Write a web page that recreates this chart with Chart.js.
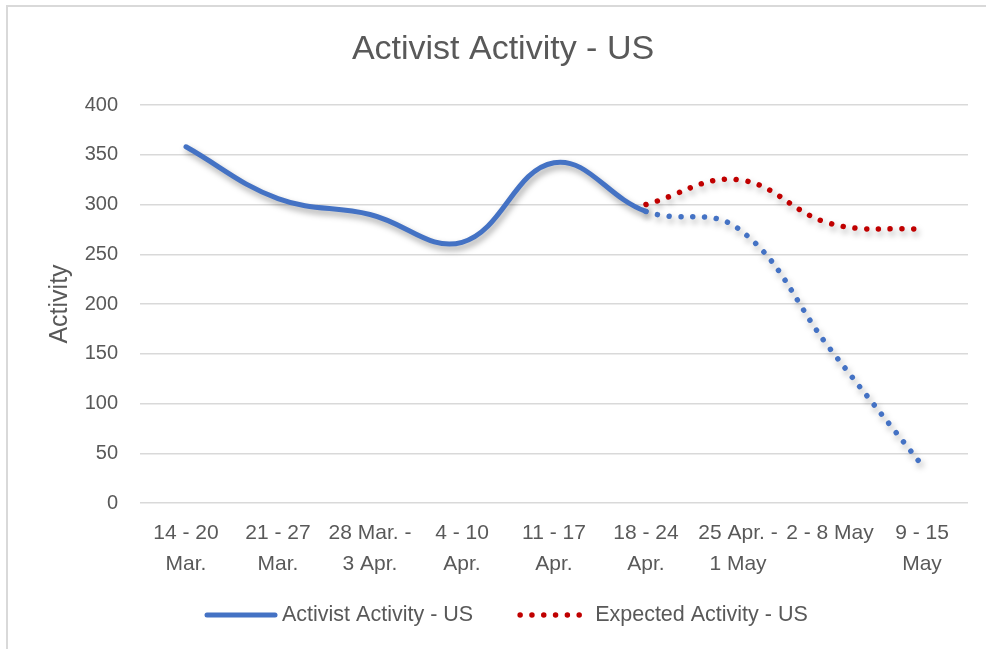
<!DOCTYPE html>
<html>
<head>
<meta charset="utf-8">
<script src="https://cdn.jsdelivr.net/npm/chart.js@4/dist/chart.umd.min.js"></script>
<style>
  html, body { margin: 0; padding: 0; background: #fff; }
  #wrap { width: 986px; height: 649px; }
</style>
</head>
<body>
<div id="wrap"><canvas id="chart"></canvas></div>
<script>
//Chart data
const chartTitle = "Activist Activity - US";
const categories = [
  ["14 - 20", "Mar."],
  ["21 - 27", "Mar."],
  ["28 Mar. -", "3 Apr."],
  ["4 - 10", "Apr."],
  ["11 - 17", "Apr."],
  ["18 - 24", "Apr."],
  ["25 Apr. -", "1 May"],
  ["2 - 8 May"],
  ["9 - 15", "May"]
];
const activistValues = [358, 306, 290, 262, 342, 293, 276, 155, 38];
const expectedValues = [null, null, null, null, null, 300, 325, 281, 275];
//Index after which the activist line is a dotted projection
const projectionStart = 5;

const textColor = "#595959";
const fontFamily = "'Liberation Sans', Arial, sans-serif";
const dotDash = [0.01, 11.8];

//Frame, title, line shadows and legend
const decorPlugin = {
  id: "decor",
  beforeDraw(chart) {
    const ctx = chart.ctx;
    ctx.save();
    ctx.strokeStyle = "#d9d9d9";
    ctx.lineWidth = 2;
    ctx.beginPath();
    ctx.moveTo(7, chart.height);
    ctx.lineTo(7, 6);
    ctx.lineTo(chart.width, 6);
    ctx.stroke();
    //Title
    ctx.fillStyle = textColor;
    ctx.font = "34px " + fontFamily;
    ctx.textAlign = "center";
    ctx.textBaseline = "middle";
    ctx.fillText(chartTitle, 503, 50);
    ctx.restore();
  },
  beforeDatasetDraw(chart) {
    const ctx = chart.ctx;
    ctx.save();
    ctx.shadowColor = "rgba(0, 0, 0, 0.35)";
    ctx.shadowBlur = 6;
    ctx.shadowOffsetX = 2;
    ctx.shadowOffsetY = 4;
  },
  afterDatasetDraw(chart) {
    chart.ctx.restore();
  },
  afterDraw(chart) {
    //Legend: line sample + label for each dataset
    const ctx = chart.ctx;
    const y = 615;
    let x = 205;
    ctx.save();
    ctx.font = "21.5px " + fontFamily;
    ctx.textBaseline = "middle";
    ctx.textAlign = "left";
    chart.data.datasets.forEach((ds, i) => {
      ctx.strokeStyle = ds.borderColor;
      ctx.lineCap = "round";
      ctx.lineWidth = i === 0 ? 5 : 5.5;
      ctx.setLineDash(i === 0 ? [] : dotDash);
      ctx.beginPath();
      ctx.moveTo(x + 2, y);
      ctx.lineTo(x + 70, y);
      ctx.stroke();
      ctx.setLineDash([]);
      ctx.fillStyle = textColor;
      ctx.fillText(ds.label, x + 77, y);
      x += 77 + ctx.measureText(ds.label).width + 45;
    });
    ctx.restore();
  }
};

const config = {
  type: "line",
  data: {
    labels: categories,
    datasets: [
      {
        label: "Activist Activity - US",
        data: activistValues,
        borderColor: "#4472c4",
        borderWidth: 5,
        borderCapStyle: "round",
        borderJoinStyle: "round",
        tension: 0.4,
        pointRadius: 0,
        segment: {
          borderDash: (c) => (c.p0DataIndex >= projectionStart ? dotDash : undefined),
          borderWidth: (c) => (c.p0DataIndex >= projectionStart ? 5.5 : undefined)
        }
      },
      {
        label: "Expected Activity - US",
        data: expectedValues,
        borderColor: "#c00000",
        borderWidth: 5.5,
        borderDash: dotDash,
        borderCapStyle: "round",
        tension: 0.4,
        pointRadius: 0
      }
    ]
  },
  options: {
    responsive: false,
    animation: false,
    devicePixelRatio: 1,
    layout: { padding: { left: 8, right: 18, top: 105, bottom: 55 } },
    plugins: {
      title: { display: false },
      legend: { display: false },
      tooltip: { enabled: false }
    },
    scales: {
      x: {
        offset: true,
        grid: { display: false, drawTicks: false },
        border: { display: false },
        ticks: {
          color: textColor,
          font: { family: fontFamily, size: 21, lineHeight: 1.476 },
          padding: 14.5,
          maxRotation: 0,
          autoSkip: false
        }
      },
      y: {
        min: 0,
        max: 400,
        grid: { color: "#d9d9d9", lineWidth: 1.5, drawTicks: false },
        border: { display: false },
        ticks: {
          stepSize: 50,
          color: textColor,
          font: { family: fontFamily, size: 20 },
          padding: 22
        },
        title: {
          display: true,
          text: "Activity",
          color: textColor,
          font: { family: fontFamily, size: 25 },
          padding: { top: 37, bottom: 0 }
        },
        afterFit(scale) {
          scale.width = 132;
        }
      }
    }
  },
  plugins: [decorPlugin]
};

const canvas = document.getElementById("chart");
canvas.width = 986;
canvas.height = 649;
const chart = new Chart(canvas.getContext("2d"), config);
</script>
</body>
</html>
